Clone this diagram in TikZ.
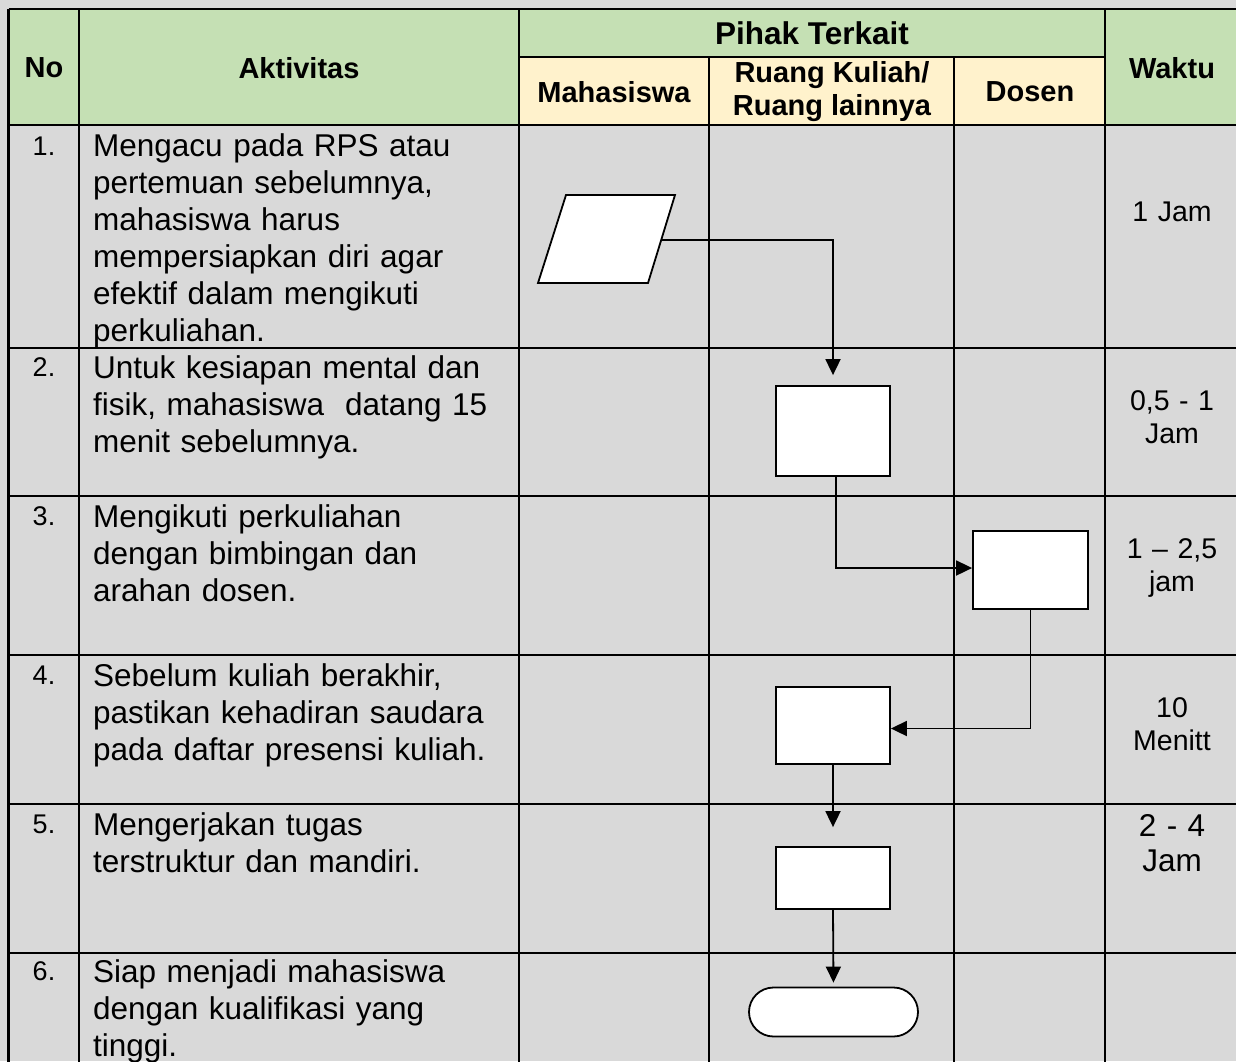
\documentclass[tikz,border=0pt]{standalone}
\usepackage{fontspec}
\setmainfont{Liberation Sans}
\usetikzlibrary{arrows.meta}
\definecolor{bggrey}{RGB}{217,217,217}
\definecolor{hdrgreen}{RGB}{197,224,180}
\definecolor{hdrcream}{RGB}{255,242,204}
\begin{document}
\begin{tikzpicture}[x=1pt,y=-1pt,
  grid/.style={line width=2.2pt, black},
  hdr/.style={font=\bfseries\fontsize{29}{33}\selectfont, align=center, inner sep=0},
  act/.style={font=\fontsize{31.5}{37}\selectfont, text width=420pt, align=left, inner sep=0, anchor=base west},
  num/.style={font=\fontsize{27}{31}\selectfont, inner sep=0, anchor=base},
  wkt/.style={font=\fontsize{28.5}{33}\selectfont, text width=130pt, align=center, inner sep=0, anchor=base},
  proc/.style={draw, line width=1.8pt, fill=white, inner sep=0},
  conn/.style={line width=1.8pt, -{Triangle[length=16pt,width=15pt]}},
]
\useasboundingbox (0,0) rectangle (1236,1061);
\fill[bggrey] (0,0) rectangle (1236,1061);
\begin{scope}
\clip (0,0) rectangle (1236,1061);
% header fills
\fill[hdrgreen] (8.5,9) rectangle (1240,125);
\fill[hdrcream] (519,57) rectangle (1105,125);
% grid
\draw[grid] (8.5,9) -- (1240,9);
\draw[grid] (519,57) -- (1105,57);
\foreach \yy in {125,348,496,655,804,953} \draw[grid] (8.5,\yy) -- (1240,\yy);
\foreach \xx in {8.5,79,519,1105} \draw[grid] (\xx,9) -- (\xx,1065);
\foreach \xx in {709,954} \draw[grid] (\xx,57) -- (\xx,1065);
\end{scope}

% header texts
\node[hdr] (hno) at (44,68) {No};
\node[hdr] (hakt) at (299,68) {Aktivitas};
\node[hdr, font=\bfseries\fontsize{31.5}{35}\selectfont] (hpihak) at (812,33) {Pihak Terkait};
\node[hdr] (hmhs) at (614,92) {Mahasiswa};
\node[hdr] (hruang) at (832,92) {Ruang Kuliah/\\Ruang lainnya};
\node[hdr] (hdosen) at (1030,92) {Dosen};
\node[hdr] (hwaktu) at (1172,68) {Waktu};

% numbers
\node[num] (n1) at (44,155) {1.};
\node[num] (n2) at (44,376) {2.};
\node[num] (n3) at (44,525) {3.};
\node[num] (n4) at (44,684) {4.};
\node[num] (n5) at (44,833) {5.};
\node[num] (n6) at (44,980) {6.};

% activities
\node[act] (a1) at (93,156) {Mengacu pada RPS atau\\pertemuan sebelumnya,\\mahasiswa harus\\mempersiapkan diri agar\\efektif dalam mengikuti\\perkuliahan.};
\node[act] (a2) at (93,378) {Untuk kesiapan mental dan\\fisik, mahasiswa\ \ datang 15\\menit sebelumnya.};
\node[act] (a3) at (93,527) {Mengikuti perkuliahan\\dengan bimbingan dan\\arahan dosen.};
\node[act] (a4) at (93,686) {Sebelum kuliah berakhir,\\pastikan kehadiran saudara\\pada daftar presensi kuliah.};
\node[act] (a5) at (93,835) {Mengerjakan tugas\\terstruktur dan mandiri.};
\node[act] (a6) at (93,982) {Siap menjadi mahasiswa\\dengan kualifikasi yang\\tinggi.};

% waktu
\node[wkt] (w1) at (1172,221) {1 Jam};
\node[wkt] (w2) at (1172,410) {0,5 - 1\\Jam};
\node[wkt] (w3) at (1172,558) {1 – 2,5\\jam};
\node[wkt] (w4) at (1172,717) {10\\Menitt};
\node[wkt, font=\fontsize{31.5}{35}\selectfont] (w5) at (1172,836) {2 - 4\\Jam};

% flow shapes
\draw[line width=1.8pt, fill=white, line join=miter] (538,283) -- (648,283) -- (675,195) -- (566,195) -- cycle;
\coordinate (parout) at (661.5,240);
\node[proc, minimum width=114pt, minimum height=90pt] (b2) at (833,431) {};
\node[proc, minimum width=115pt, minimum height=78pt] (b3) at (1030.5,570) {};
\node[proc, minimum width=114pt, minimum height=77pt] (b4) at (833,725.5) {};
\node[proc, minimum width=114pt, minimum height=62pt] (b5) at (833,878) {};
\node[proc, minimum width=169pt, minimum height=49pt, rounded corners=24.5pt] (term) at (833.5,1012) {};

% connectors
\draw[conn, shorten >=10pt] (parout) -| (b2.north);
\draw[conn] ([xshift=3pt]b2.south) |- ([yshift=2pt]b3.west);
\draw[conn] (b3.south) |- ([yshift=-3pt]b4.east);
\draw[conn, shorten >=19pt] (b4.south) -- (b5.north);
\draw[conn, shorten >=4pt] (b5.south) -- (term.north);
\end{tikzpicture}
\end{document}
